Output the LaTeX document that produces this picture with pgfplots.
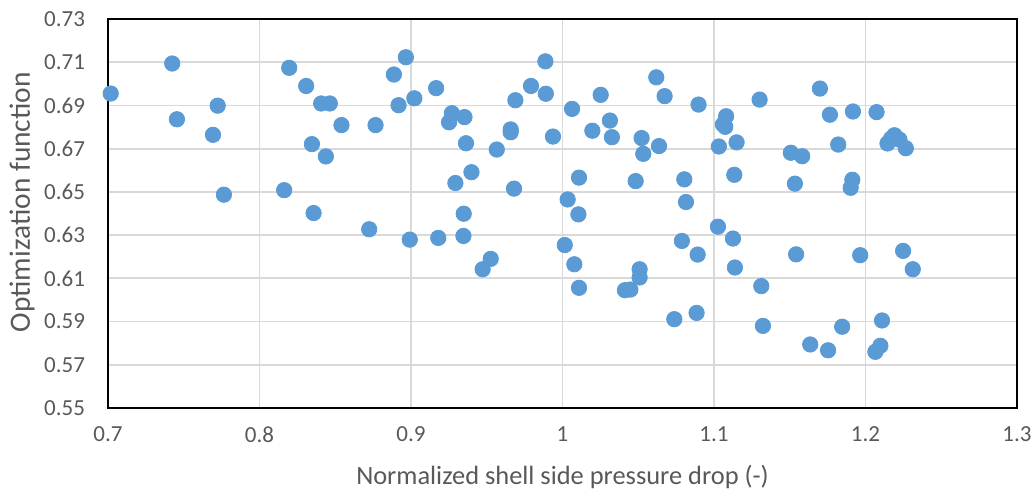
\documentclass[border=0pt]{standalone}
\usepackage{fontspec}
\setmainfont{Carlito}
\usepackage{pgfplots}
\pgfplotsset{compat=1.18}

\definecolor{dotblue}{HTML}{5B9BD5}
\definecolor{gridgray}{HTML}{D9D9D9}
\definecolor{txtgray}{HTML}{595959}

\pgfplotstableread{
x y
0.7018 0.6955
0.7424 0.7094
0.7455 0.6836
0.7693 0.6764
0.7724 0.6899
0.7765 0.6487
0.8163 0.6508
0.8196 0.7074
0.8308 0.6990
0.8346 0.6721
0.8357 0.6402
0.8407 0.6909
0.8438 0.6664
0.8464 0.6909
0.8541 0.6809
0.8724 0.6327
0.8766 0.6809
0.8887 0.7043
0.8918 0.6901
0.8966 0.7123
0.8992 0.6279
0.9022 0.6933
0.9166 0.6980
0.9180 0.6287
0.9251 0.6822
0.9270 0.6864
0.9293 0.6541
0.9346 0.6296
0.9348 0.6399
0.9353 0.6846
0.9363 0.6725
0.9399 0.6591
0.9473 0.6142
0.9526 0.6190
0.9566 0.6696
0.9658 0.6789
0.9658 0.6776
0.9680 0.6515
0.9689 0.6924
0.9792 0.6990
0.9887 0.7104
0.9890 0.6954
0.9937 0.6756
1.0015 0.6254
1.0034 0.6465
1.0063 0.6884
1.0078 0.6165
1.0105 0.6396
1.0109 0.6566
1.0109 0.6056
1.0197 0.6783
1.0252 0.6949
1.0313 0.6830
1.0326 0.6753
1.0412 0.6045
1.0448 0.6048
1.0483 0.6550
1.0509 0.6142
1.0509 0.6104
1.0522 0.6749
1.0533 0.6676
1.0619 0.7030
1.0637 0.6712
1.0674 0.6943
1.0738 0.5911
1.0788 0.6273
1.0804 0.6558
1.0815 0.6453
1.0885 0.5940
1.0892 0.6210
1.0898 0.6904
1.1026 0.6339
1.1032 0.6710
1.1059 0.6812
1.1074 0.6801
1.1080 0.6850
1.1125 0.6284
1.1134 0.6579
1.1138 0.6150
1.1149 0.6729
1.1301 0.6927
1.1312 0.6064
1.1323 0.5880
1.1507 0.6681
1.1534 0.6538
1.1542 0.6211
1.1582 0.6665
1.1635 0.5794
1.1699 0.6978
1.1753 0.5767
1.1765 0.6857
1.1820 0.6719
1.1846 0.5876
1.1902 0.6519
1.1913 0.6556
1.1917 0.6872
1.1965 0.6207
1.2065 0.5760
1.2073 0.6869
1.2098 0.5788
1.2109 0.5905
1.2145 0.6724
1.2169 0.6747
1.2191 0.6762
1.2224 0.6742
1.2248 0.6227
1.2266 0.6702
1.2312 0.6142
}\pts

\begin{document}
\begin{tikzpicture}
\begin{axis}[
  scale only axis, width=454.5pt, height=194.5pt,
  xmin=0.7, xmax=1.3, ymin=0.55, ymax=0.73,
  xtick={0.7,0.8,...,1.3}, ytick={0.55,0.57,...,0.73},
  yticklabel style={/pgf/number format/fixed, /pgf/number format/fixed zerofill, /pgf/number format/precision=2, xshift=-8pt},
  xticklabel style={/pgf/number format/fixed, yshift=-6pt},
  /pgf/number format/assume math mode=true,
  tick label style={font=\fontsize{11.5}{13}\selectfont, text=txtgray},
  major tick length=0pt,
  grid=major, grid style={gridgray, line width=0.9pt},
  axis line style={black, line width=1pt},
  xlabel={Normalized shell side pressure drop (-)},
  ylabel={Optimization function},
  label style={text=txtgray},
  xlabel style={font=\fontsize{13.2}{15}\selectfont, at={(axis description cs:0.5,-0.177)}, anchor=center},
  ylabel style={font=\fontsize{14.7}{17}\selectfont, at={(axis description cs:-0.0946,0.529)}, anchor=center},
  clip=false,
]
\addplot[only marks, mark=*, mark size=3.85pt, mark options={fill=dotblue, draw=dotblue}] table {\pts};
\coordinate (sw) at (rel axis cs:0,0);
\coordinate (ne) at (rel axis cs:1,1);
\end{axis}
\pgfresetboundingbox
\path ([shift={(-54pt,-43.5pt)}]sw) rectangle ([shift={(9pt,9.5pt)}]ne);
\end{tikzpicture}
\end{document}
